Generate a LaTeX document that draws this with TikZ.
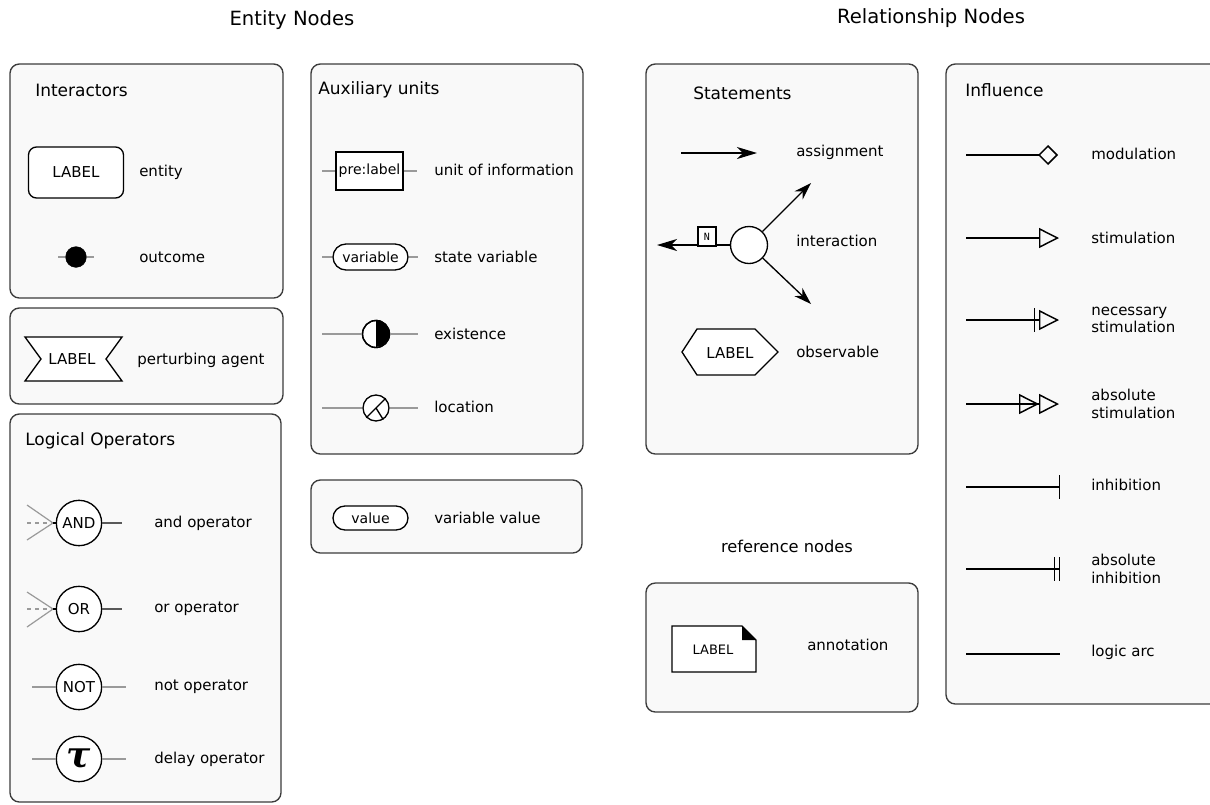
\documentclass[tikz,border=0pt]{standalone}
\usepackage{fontspec}
\setmainfont{DejaVu Sans}
\newfontfamily\monofont{DejaVu Sans Mono}
\newfontfamily\greekfont{DejaVu Serif}
\usetikzlibrary{arrows.meta}
\definecolor{panelfill}{HTML}{F9F9F9}
\definecolor{panelline}{HTML}{3C3C3C}
\definecolor{stubgray}{HTML}{9A9A9A}
\newcommand{\delaysign}{{\greekfont\fontsize{27}{27}\selectfont\bfseries\itshape τ}}

\begin{document}
\begin{tikzpicture}[x=0.75pt,y=-0.75pt,
  panel/.style={draw=panelline, fill=panelfill, line width=1pt, rounded corners=7pt},
  glyph/.style={draw=black, fill=white, line width=1pt, inner sep=0pt},
  stub/.style={draw=stubgray, line width=0.9pt},
  desc/.style={anchor=west, inner sep=0pt, font=\fontsize{11.25}{13}\selectfont, align=left},
  boxtitle/.style={anchor=west, inner sep=0pt, font=\fontsize{12.75}{15}\selectfont},
  maintitle/.style={inner sep=0pt, font=\fontsize{14.7}{17}\selectfont},
  gtext/.style={font=\fontsize{11.25}{13}\selectfont},
  stext/.style={font=\fontsize{10.5}{12}\selectfont},
  opnode/.style={glyph, circle, minimum size=34pt, font=\fontsize{11.25}{13}\selectfont},
  infl/.style={line width=1.1pt},
  stmt/.style={line width=1pt},
  headS/.style={-{Stealth[length=15pt, width=9pt, inset=4.5pt]}},
]
\useasboundingbox (0,0) rectangle (1210,804);
\clip (0,0) rectangle (1210,804);
\fill[white] (0,0) rectangle (1210,804);

% ---------- headings ----------
\node[maintitle] (hEntity) at (292,20) {Entity Nodes};
\node[maintitle] (hRel) at (931,18) {Relationship Nodes};
\node[inner sep=0pt, font=\fontsize{12.2}{15}\selectfont] (hRef) at (787,546) {reference nodes};

% ---------- panels ----------
\path[panel] (10,64) rectangle (283,298);
\path[panel] (10,308) rectangle (283,404);
\path[panel] (10,414) rectangle (281,802);
\path[panel] (311,64) rectangle (583,454);
\path[panel] (311,480) rectangle (582,553);
\path[panel] (646,64) rectangle (918,454);
\path[panel] (646,583) rectangle (918,712);
\path[panel] (946,64) rectangle (1230,704);

% ---------- Interactors ----------
\node[boxtitle] (tInter) at (35,90) {Interactors};
\node[glyph, rounded corners=6pt, minimum width=71.25pt, minimum height=38.25pt, gtext]
  (entity) at (76,172.5) {LABEL};
\node[desc] (dEntity) at (139,172) {entity};

\coordinate (oc1) at (58,257);
\coordinate (oc2) at (94,257);
\node[circle, fill=black, draw=black, inner sep=0pt, minimum size=15.5pt] (outcome) at (76,257) {};
\draw[stub] (oc1) -- (outcome);
\draw[stub] (outcome) -- (oc2);
\node[desc] (dOutcome) at (139,257) {outcome};

% ---------- perturbing agent ----------
\draw[line width=1pt, fill=white] (25,337) -- (122,337) -- (106,359) -- (122,381)
  -- (25,381) -- (41,359) -- cycle;
\node[gtext] (pert) at (72,359) {LABEL};
\node[desc] (dPert) at (137,360) {perturbing agent};

% ---------- Logical operators ----------
\node[boxtitle] (tLogic) at (25,441) {Logical Operators};

\node[opnode] (opand) at (79,523) {AND};
\coordinate (andIn) at (53,523);
\coordinate (andA) at (27,505);
\coordinate (andB) at (27,523);
\coordinate (andC) at (27,540);
\coordinate (andOut) at (122,523);
\draw[stub] (andA) -- (andIn);
\draw[stub, dashed] (andB) -- (andIn);
\draw[stub] (andC) -- (andIn);
\draw[line width=0.9pt] (andIn) -- (opand);
\draw[line width=0.9pt, draw=black!65] (opand) -- (andOut);
\node[desc] (dAnd) at (154,523) {and operator};

\node[opnode] (opor) at (79,609) {OR};
\coordinate (orIn) at (53,609);
\coordinate (orA) at (27,592);
\coordinate (orB) at (27,609);
\coordinate (orC) at (27,627);
\coordinate (orOut) at (122,609);
\draw[stub] (orA) -- (orIn);
\draw[stub, dashed] (orB) -- (orIn);
\draw[stub] (orC) -- (orIn);
\draw[line width=0.9pt] (orIn) -- (opor);
\draw[line width=0.9pt, draw=black!65] (opor) -- (orOut);
\node[desc] (dOr) at (154,609) {or operator};

\node[opnode] (opnot) at (79,687) {NOT};
\coordinate (notIn) at (32,687);
\coordinate (notOut) at (126,687);
\draw[stub] (notIn) -- (opnot);
\draw[stub] (opnot) -- (notOut);
\node[desc] (dNot) at (154,687) {not operator};

\node[opnode] (opdelay) at (79,759) {\delaysign};
\coordinate (delIn) at (32,759);
\coordinate (delOut) at (126,759);
\draw[stub] (delIn) -- (opdelay);
\draw[stub] (opdelay) -- (delOut);
\node[desc] (dDelay) at (154,759) {delay operator};

% ---------- Auxiliary units ----------
\node[boxtitle] (tAux) at (318,90) {Auxiliary units};

\node[glyph, minimum width=50.25pt, minimum height=28.5pt, stext] (uoi) at (369.5,171) {pre:label};
\coordinate (uoiIn) at (322,171);
\coordinate (uoiOut) at (417,171);
\draw[stub] (uoiIn) -- (uoi);
\draw[stub] (uoi) -- (uoiOut);
\node[desc] (dUoi) at (434,170) {unit of information};

\node[glyph, rounded corners=9.75pt, minimum width=56.25pt, minimum height=19.5pt, stext] (sv) at (370.5,257) {variable};
\coordinate (svIn) at (322,257);
\coordinate (svOut) at (418,257);
\draw[stub] (svIn) -- (sv);
\draw[stub] (sv) -- (svOut);
\node[desc] (dSv) at (434,257) {state variable};

\node[glyph, circle, minimum size=20.25pt] (exist) at (376,334) {};
\fill[black] (exist.north) arc[start angle=90, end angle=-90, radius=10.125pt] -- cycle;
\draw[line width=1pt] (exist.center) circle[radius=10.125pt];
\coordinate (exIn) at (322,334);
\coordinate (exOut) at (418,334);
\draw[stub] (exIn) -- (exist);
\draw[stub] (exist) -- (exOut);
\node[desc] (dExist) at (434,334) {existence};

\node[glyph, circle, minimum size=19.5pt] (loc) at (376,408) {};
\draw[line width=1pt] (loc.45) -- (loc.225);
\draw[line width=1pt] (loc.center) -- (loc.-58);
\coordinate (locIn) at (322,408);
\coordinate (locOut) at (418,408);
\draw[stub] (locIn) -- (loc);
\draw[stub] (loc) -- (locOut);
\node[desc] (dLoc) at (434,407) {location};

\node[glyph, rounded corners=9pt, minimum width=56.25pt, minimum height=18pt, stext] (val) at (370.5,518) {value};
\node[desc] (dVal) at (434,518) {variable value};

% ---------- Statements ----------
\node[boxtitle] (tStat) at (693,93) {Statements};

\coordinate (asA) at (681,153);
\coordinate (asB) at (757,153);
\draw[stmt, headS] (asA) -- (asB);
\node[desc] (dAssign) at (796,152) {assignment};

\node[glyph, circle, minimum size=27.75pt] (inter) at (749,245) {};
\coordinate (intL) at (657,245);
\coordinate (intU) at (811,183);
\coordinate (intD) at (811,304);
\draw[stmt, headS] (inter) -- (intL);
\draw[stmt, -{Stealth[length=13pt, width=8.5pt, inset=4pt]}] (inter) -- (intU);
\draw[stmt, -{Stealth[length=13pt, width=8.5pt, inset=4pt]}] (inter) -- (intD);
\node[glyph, minimum width=13.5pt, minimum height=14.25pt, font=\monofont\fontsize{7.5}{8}\selectfont]
  (card) at (707,236.5) {N};
\node[desc] (dInter) at (796,241) {interaction};

\draw[line width=1pt, fill=white] (682,352) -- (697,329) -- (755,329) -- (778,352)
  -- (755,375) -- (697,375) -- cycle;
\node[gtext] (obs) at (730,353) {LABEL};
\node[desc] (dObs) at (796,352) {observable};

% ---------- reference nodes ----------
\draw[line width=1pt, fill=white] (672,626) -- (742,626) -- (756,640) -- (756,672)
  -- (672,672) -- cycle;
\fill[black] (742,626) -- (756,640) -- (742,640) -- cycle;
\node[font=\fontsize{9.75}{11}\selectfont] (annot) at (713,650) {LABEL};
\node[desc] (dAnnot) at (807,645) {annotation};

% ---------- Influence ----------
\node[boxtitle] (tInfl) at (965,90) {Influence};

\coordinate (modA) at (966,155);
\coordinate (modB) at (1058,155);
\draw[infl, -{Diamond[open, length=15pt, width=15pt]}] (modA) -- (modB);
\node[desc] (dMod) at (1091,154) {modulation};

\coordinate (stA) at (966,238);
\coordinate (stB) at (1059,238);
\draw[infl, -{Triangle[open, length=15pt, width=15pt]}] (stA) -- (stB);
\node[desc] (dStim) at (1091,238) {stimulation};

\coordinate (nsA) at (966,320);
\coordinate (nsB) at (1059,320);
\draw[infl, -{Bar[width=18pt, sep=3pt] Triangle[open, length=15pt, width=15pt]}] (nsA) -- (nsB);
\node[desc] (dNec) at (1091,320) {necessary\\stimulation};

\coordinate (asStA) at (966,404);
\coordinate (asStB) at (1059,404);
\draw[infl, -{Triangle[open, length=15pt, width=15pt, sep=0pt] Triangle[open, length=15pt, width=15pt]}] (asStA) -- (asStB);
\node[desc] (dAbsStim) at (1091,404) {absolute\\stimulation};

\coordinate (inA) at (966,487);
\coordinate (inB) at (1060,487);
\draw[infl, -{Bar[width=18pt]}] (inA) -- (inB);
\node[desc] (dInh) at (1091,485) {inhibition};

\coordinate (aiA) at (966,569);
\coordinate (aiB) at (1060,569);
\draw[infl, -{Bar[width=18pt, sep=2.5pt] Bar[width=18pt]}] (aiA) -- (aiB);
\node[desc] (dAbsInh) at (1091,569) {absolute\\inhibition};

\coordinate (laA) at (966,654);
\coordinate (laB) at (1060,654);
\draw[infl] (laA) -- (laB);
\node[desc] (dLogic) at (1091,652) {logic arc};
\end{tikzpicture}
\end{document}
